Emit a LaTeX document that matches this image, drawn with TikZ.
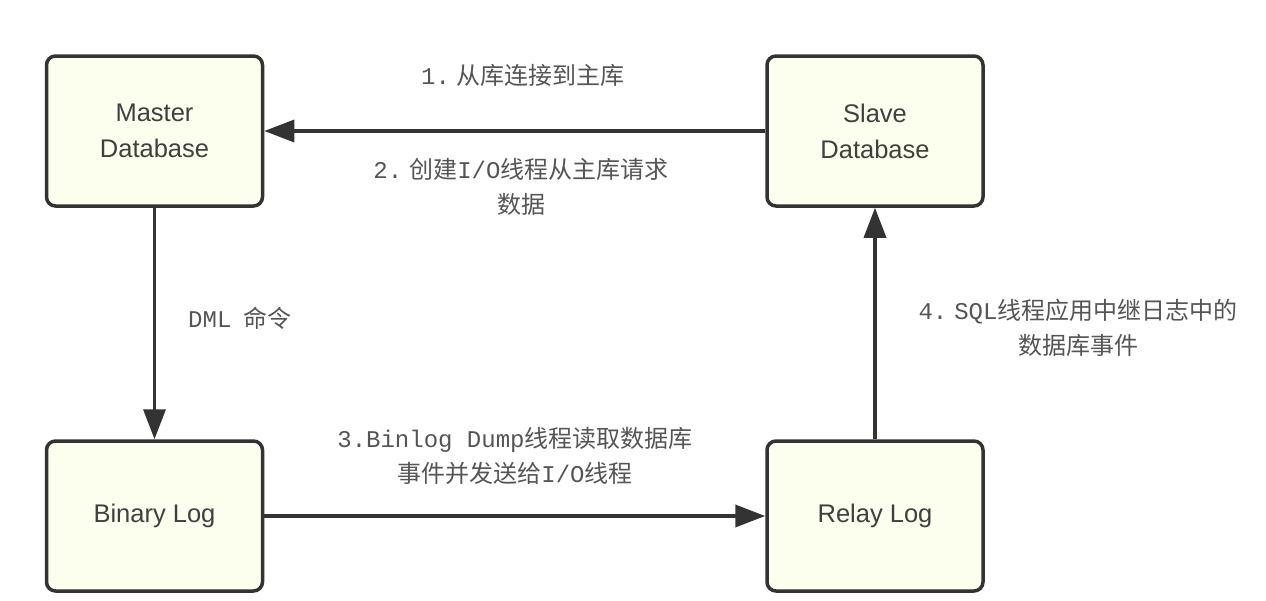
\documentclass[tikz,border=0pt]{standalone}
\usepackage{fontspec}
\setmainfont{Liberation Sans}
\newfontfamily\cjk{Noto Sans CJK SC}
\newfontfamily\mono{Liberation Mono}
\usetikzlibrary{arrows.meta}
\definecolor{boxfill}{HTML}{FCFEEE}
\definecolor{edge}{HTML}{333333}
\definecolor{boxtext}{HTML}{404040}
\definecolor{lbl}{HTML}{555555}
\tikzset{
  dbbox/.style={draw=edge, fill=boxfill, line width=3.5pt, rounded corners=9pt,
    minimum width=216pt, minimum height=150pt, align=center, text=boxtext,
    font=\fontsize{25.5}{36}\selectfont},
  flow/.style={draw=edge, line width=3.5pt, -{Triangle[length=30pt,width=22pt]}},
  note/.style={align=center, text=lbl, font=\fontsize{24}{35}\selectfont\cjk, inner sep=0pt}
}
\begin{document}
\begin{tikzpicture}[x=1pt,y=-1pt]
\useasboundingbox[fill=white] (0,0) rectangle (1266,600);
\node[dbbox] (master) at (154.5,131) {Master\\Database};
\node[dbbox] (slave) at (875,131) {Slave\\Database};
\node[dbbox] (binlog) at (154.5,516) {Binary Log};
\node[dbbox] (relay) at (875,516) {Relay Log};

\draw[flow] (slave.west) -- (master.east);
\draw[flow] (master.south) -- (binlog.north);
\draw[flow] (binlog.east) -- (relay.west);
\draw[flow] (relay.north) -- (slave.south);

\node[note] (l1) at (523,75) {{\mono 1.}\hspace{7pt}从库连接到主库};
\node[note] (l2) at (521,187) {{\mono 2.}\hspace{7pt}创建{\mono I/O}线程从主库请求\\数据};
\node[note, anchor=west] (l5) at (188,318) {{\mono DML}\hspace{12pt}命令};
\node[note] (l3) at (515,456) {{\mono 3.Binlog Dump}线程读取数据库\\事件并发送给{\mono I/O}线程};
\node[note] (l4) at (1078,328) {{\mono 4.}\hspace{7pt}{\mono SQL}线程应用中继日志中的\\数据库事件};
\end{tikzpicture}
\end{document}
